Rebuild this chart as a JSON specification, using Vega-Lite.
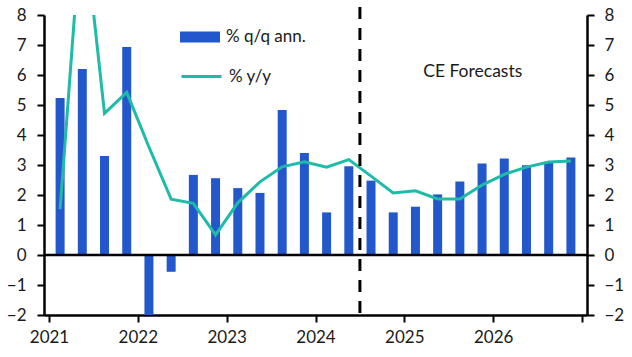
{
  "$schema": "https://vega.github.io/schema/vega-lite/v6.json",
  "width": 543,
  "height": 300,
  "autosize": "none",
  "padding": {"left": 44, "top": 15, "right": 45, "bottom": 42},
  "background": "white",
  "config": {
    "view": {"stroke": null},
    "font": "Lato",
    "axis": {"grid": false, "domainColor": "black", "domainWidth": 2.5, "tickColor": "black", "tickWidth": 2, "tickSize": 7, "labelFont": "Lato", "labelFontSize": 17, "labelColor": "#1a1a1a", "title": null},
    "legend": {"labelFont": "Lato", "labelFontSize": 17, "labelColor": "#1a1a1a"}
  },
  "data": {
    "values": [
      {"t": 2021.125, "qq": 5.23, "yy": 1.53},
      {"t": 2021.375, "qq": 6.2, "yy": 11.5},
      {"t": 2021.625, "qq": 3.3, "yy": 4.72},
      {"t": 2021.875, "qq": 6.93, "yy": 5.42},
      {"t": 2022.125, "qq": -2.0, "yy": 3.6},
      {"t": 2022.375, "qq": -0.56, "yy": 1.86},
      {"t": 2022.625, "qq": 2.67, "yy": 1.72},
      {"t": 2022.875, "qq": 2.56, "yy": 0.67},
      {"t": 2023.125, "qq": 2.23, "yy": 1.74},
      {"t": 2023.375, "qq": 2.07, "yy": 2.44},
      {"t": 2023.625, "qq": 4.83, "yy": 2.94},
      {"t": 2023.875, "qq": 3.4, "yy": 3.11},
      {"t": 2024.125, "qq": 1.42, "yy": 2.93},
      {"t": 2024.375, "qq": 2.96, "yy": 3.18},
      {"t": 2024.625, "qq": 2.48, "yy": 2.63},
      {"t": 2024.875, "qq": 1.42, "yy": 2.07},
      {"t": 2025.125, "qq": 1.61, "yy": 2.14},
      {"t": 2025.375, "qq": 2.02, "yy": 1.87},
      {"t": 2025.625, "qq": 2.45, "yy": 1.87},
      {"t": 2025.875, "qq": 3.05, "yy": 2.33},
      {"t": 2026.125, "qq": 3.22, "yy": 2.69},
      {"t": 2026.375, "qq": 2.99, "yy": 2.93},
      {"t": 2026.625, "qq": 3.1, "yy": 3.1},
      {"t": 2026.875, "qq": 3.25, "yy": 3.13}
    ]
  },
  "layer": [
    {
      "mark": {"type": "bar", "size": 9, "clip": true},
      "encoding": {
        "x": {"field": "t", "type": "quantitative", "scale": {"domain": [2021, 2027], "nice": false, "zero": false},
          "axis": {"values": [2021, 2022, 2023, 2024, 2025, 2026, 2027], "format": "d", "labelExpr": "datum.value == 2027 ? '' : datum.label", "labelDx": 10, "labelPadding": 7, "orient": "bottom"}},
        "y": {"field": "qq", "type": "quantitative", "scale": {"domain": [-2, 8], "nice": false, "zero": false},
          "axis": {"orient": "left", "values": [-2, -1, 0, 1, 2, 3, 4, 5, 6, 7, 8], "labelPadding": 11}},
        "fill": {"datum": "% q/q ann.", "type": "nominal", "scale": {"range": ["#2358CC"]},
          "legend": {"title": null, "orient": "none", "legendX": 136, "legendY": 2, "symbolType": "M-1,-0.28H1V0.28H-1Z", "symbolSize": 1600, "symbolOpacity": 1, "symbolStrokeWidth": 0, "labelOffset": 6}}
      }
    },
    {
      "mark": {"type": "line", "strokeWidth": 3, "clip": true},
      "encoding": {
        "x": {"field": "t", "type": "quantitative", "scale": {"domain": [2021, 2027], "nice": false, "zero": false}},
        "y": {"field": "yy", "type": "quantitative", "scale": {"domain": [-2, 8], "nice": false, "zero": false},
          "axis": {"orient": "right", "values": [-2, -1, 0, 1, 2, 3, 4, 5, 6, 7, 8], "labelPadding": 10}},
        "stroke": {"datum": "% y/y", "type": "nominal", "scale": {"range": ["#1DBBA8"]},
          "legend": {"title": null, "orient": "none", "legendX": 136, "legendY": 40, "symbolType": "stroke", "symbolSize": 1600, "symbolStrokeWidth": 3, "labelOffset": 6}}
      }
    },
    {
      "data": {"values": [{}]},
      "mark": {"type": "rule", "color": "black", "strokeWidth": 2.5},
      "encoding": {
        "y": {"datum": 0, "scale": {"domain": [-2, 8], "nice": false, "zero": false}, "axis": null}
      }
    },
    {
      "data": {"values": [{}]},
      "mark": {"type": "rule", "color": "black", "strokeWidth": 3, "strokeDash": [12, 9]},
      "encoding": {
        "x": {"datum": 2024.5, "type": "quantitative", "scale": {"domain": [2021, 2027], "nice": false, "zero": false}},
        "y": {"datum": 8.27, "type": "quantitative", "scale": {"domain": [-2, 8], "nice": false, "zero": false}, "axis": null},
        "y2": {"datum": -2}
      }
    },
    {
      "data": {"values": [{}]},
      "mark": {"type": "text", "text": "CE Forecasts", "font": "Lato", "fontSize": 17.5, "color": "#1a1a1a", "align": "center", "baseline": "middle"},
      "encoding": {
        "x": {"datum": 2025.77, "type": "quantitative", "scale": {"domain": [2021, 2027], "nice": false, "zero": false}},
        "y": {"datum": 6.1, "type": "quantitative", "scale": {"domain": [-2, 8], "nice": false, "zero": false}, "axis": null}
      }
    }
  ],
  "resolve": {"scale": {"y": "independent", "fill": "independent", "stroke": "independent"}}
}
